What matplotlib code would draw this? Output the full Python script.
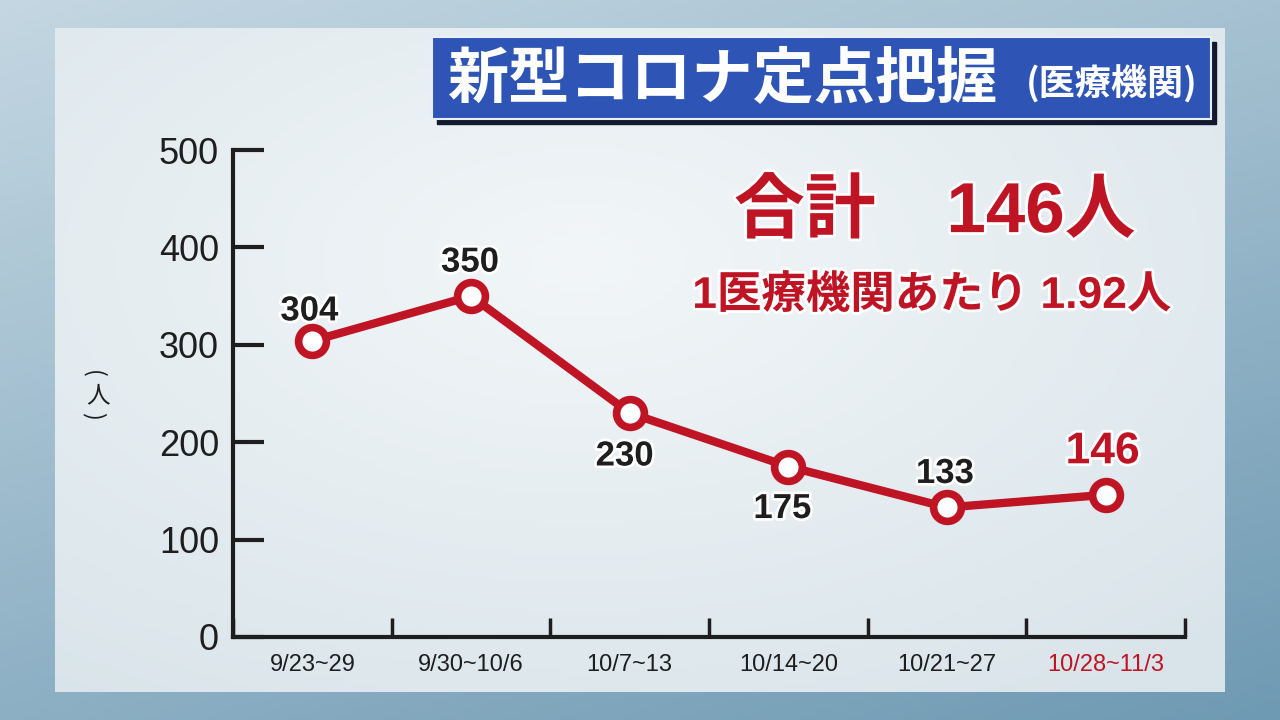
import numpy as np
import matplotlib.pyplot as plt
import matplotlib.patheffects as pe
from matplotlib.patches import Rectangle

plt.rcParams['font.family'] = ['Noto Sans CJK JP', 'DejaVu Sans']

# データ
weeks = ['9/23~29', '9/30~10/6', '10/7~13', '10/14~20', '10/21~27', '10/28~11/3']
patients = [304, 350, 230, 175, 133, 146]
y_ticks = [0, 100, 200, 300, 400, 500]

red = '#bf1424'
dark = '#1e1e1e'
latin = ['Liberation Sans', 'Noto Sans CJK JP', 'DejaVu Sans']
glow = [pe.withStroke(linewidth=4, foreground='white')]

fig = plt.figure(figsize=(12.8, 7.2), dpi=100)

# 背景（外枠とパネル）
bg = fig.add_axes([0, 0, 1, 1])
bg.axis('off')
gx = np.linspace(0, 1, 256)
gy = np.linspace(0, 1, 144)
X, Y = np.meshgrid(gx, gy)
c1 = np.array([0xc4, 0xd7, 0xe2]) / 255
c2 = np.array([0x6f, 0x9a, 0xb3]) / 255
t = (0.35 * X + 0.65 * Y)[..., None]
outer = c1 * (1 - t) + c2 * t
bg.imshow(outer, extent=[0, 1280, 720, 0], aspect='auto', zorder=0)
p1 = np.array([0xf2, 0xf6, 0xf8]) / 255
p2 = np.array([0xd9, 0xe4, 0xea]) / 255
r = np.clip(np.sqrt((X - 0.45) ** 2 + (Y - 0.35) ** 2)[..., None] / 0.8, 0, 1)
panel = p1 * (1 - r) + p2 * r
bg.imshow(panel, extent=[55, 1225, 692, 28], aspect='auto', zorder=1)
bg.set_xlim(0, 1280)
bg.set_ylim(720, 0)

# タイトル
bg.add_patch(Rectangle((437, 42), 779, 82, color='#141a2e', zorder=2))
bg.add_patch(Rectangle((432, 37), 779, 82, color='#2e55b6', ec='#e8eef5', lw=1.5, zorder=3))
bg.text(447, 80, '新型コロナ定点把握', color='white', fontsize=44, fontweight='bold',
        va='center', ha='left', zorder=4)
bg.text(1198, 84, '(医療機関)', color='white', fontsize=26, fontweight='bold',
        va='center', ha='right', zorder=4)

# 合計
bg.text(935, 214, '合計　146人', color=red, fontsize=51, fontweight='bold', family=latin,
        ha='center', va='center', zorder=4, path_effects=glow)
bg.text(932, 296, '1医療機関あたり 1.92人', color=red, fontsize=32, fontweight='bold',
        family=latin, ha='center', va='center', zorder=4, path_effects=glow)

# 単位（縦書き）
bg.text(93, 374, '(', color=dark, fontsize=17, rotation=-90, ha='center', va='center', zorder=4)
bg.text(98, 396, '人', color=dark, fontsize=17, ha='center', va='center', zorder=4)
bg.text(93, 416, ')', color=dark, fontsize=17, rotation=-90, ha='center', va='center', zorder=4)

# グラフ
ax = fig.add_axes([233 / 1280, 1 - 637 / 720, (1185 - 233) / 1280, (637 - 150) / 720])
ax.patch.set_alpha(0)
x = np.arange(len(weeks))
ax.plot(x, patients, color=red, lw=6, zorder=3, solid_capstyle='round')
ax.plot(x, patients, 'o', ms=20, mfc='white', mec=red, mew=5.5, zorder=4)

# ラベル位置（ピクセル単位のずらし）
offsets = [(-3, 30), (-1, 34), (-5, -43), (-6, -42), (-2, 34), (-3, 43)]
for i, v in enumerate(patients):
    last = i == len(patients) - 1
    ax.annotate(str(v), (i, v), xytext=offsets[i], textcoords='offset pixels',
                ha='center', va='center', fontsize=32 if last else 25,
                fontweight='bold', color=red if last else dark,
                family=latin, zorder=5, path_effects=glow)

ax.set_xlim(-0.5, len(weeks) - 0.5)
ax.set_ylim(0, 500)
ax.set_yticks(y_ticks)
ax.set_yticklabels([str(v) for v in y_ticks], family=latin, fontsize=26, color=dark)
ax.tick_params(axis='y', direction='in', length=22, width=3, color=dark, pad=10)
ax.set_xticks(np.arange(-0.5, len(weeks), 1.0))
ax.set_xticklabels([])
ax.tick_params(axis='x', direction='in', length=14, width=2.5, color=dark)
ax.set_xticks(x, minor=True)
ax.set_xticklabels(weeks, minor=True, fontsize=17, family=latin)
ax.tick_params(axis='x', which='minor', length=0, pad=12, colors=dark)
ax.get_xticklabels(minor=True)[-1].set_color(red)
for s in ['top', 'right']:
    ax.spines[s].set_visible(False)
for s in ['left', 'bottom']:
    ax.spines[s].set_linewidth(3)
    ax.spines[s].set_color(dark)

fig.savefig('out.png', dpi=100)
